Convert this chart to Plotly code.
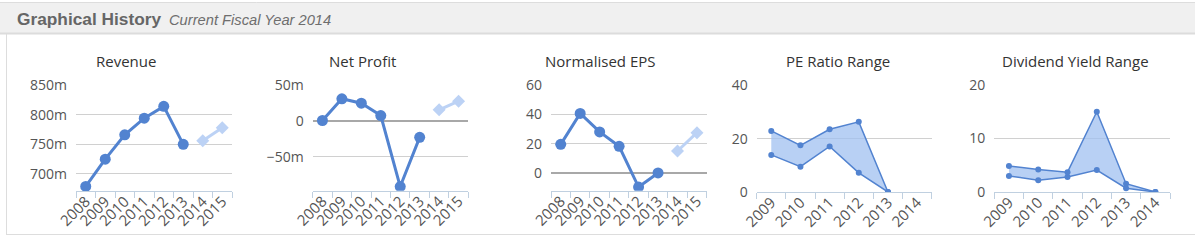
import plotly.graph_objects as go

W, H = 1195, 241

years8 = ['2008', '2009', '2010', '2011', '2012', '2013', '2014', '2015']
years6 = ['2009', '2010', '2011', '2012', '2013', '2014']

revenue = [679, 725, 766, 794, 814, 750, None, None]
revenue_fc = [None, None, None, None, None, None, 756, 778]

net_profit = [0.5, 30.8, 24.6, 7.4, -91.6, -23, None, None]
net_profit_fc = [None, None, None, None, None, None, 15.4, 27.4]

eps = [19.5, 40.6, 28, 18.2, -9.6, 0, None, None]
eps_fc = [None, None, None, None, None, None, 15, 27.5]

pe_high = [22.9, 17.5, 23.5, 26.3, 0, None]
pe_low = [13.9, 9.5, 17.1, 7.2, 0, None]

dy_high = [4.86, 4.2, 3.7, 15.0, 1.55, 0]
dy_low = [3.0, 2.2, 2.8, 4.1, 0.7, 0]

titles = ['Revenue', 'Net Profit', 'Normalised EPS', 'PE Ratio Range', 'Dividend Yield Range']

MAIN = '#5283d0'
LIGHT = '#bcd2f5'
FILL = 'rgba(160,192,240,0.75)'
GRID = '#d0d0d0'
AXIS = '#c0d0e0'
FONT = 'Open Sans'
LABEL = '#555555'


def xd(a, b):
    return [a / W, b / W]


def yd(top, bottom):
    return [1 - bottom / H, 1 - top / H]


fig = go.Figure()

line_sets = [
    (revenue, revenue_fc),
    (net_profit, net_profit_fc),
    (eps, eps_fc),
]
for i, (main, fc) in enumerate(line_sets):
    ax = '' if i == 0 else str(i + 1)
    fig.add_trace(go.Scatter(x=years8, y=main, mode='lines+markers',
                             line=dict(color=MAIN, width=3),
                             marker=dict(color=MAIN, size=11),
                             xaxis='x' + ax, yaxis='y' + ax,
                             showlegend=False, connectgaps=False))
    fig.add_trace(go.Scatter(x=years8, y=fc, mode='lines+markers',
                             line=dict(color=LIGHT, width=3),
                             marker=dict(color=LIGHT, size=10, symbol='diamond'),
                             xaxis='x' + ax, yaxis='y' + ax,
                             showlegend=False))

range_sets = [(pe_low, pe_high, years6), (dy_low, dy_high, years6)]
for j, (lo, hi, cats) in enumerate(range_sets):
    ax = str(j + 4)
    fig.add_trace(go.Scatter(x=cats, y=lo, mode='lines+markers',
                             line=dict(color=MAIN, width=1.5),
                             marker=dict(color=MAIN, size=6),
                             xaxis='x' + ax, yaxis='y' + ax, showlegend=False))
    fig.add_trace(go.Scatter(x=cats, y=hi, mode='lines+markers', fill='tonexty',
                             fillcolor=FILL,
                             line=dict(color=MAIN, width=1.5),
                             marker=dict(color=MAIN, size=6),
                             xaxis='x' + ax, yaxis='y' + ax, showlegend=False))

xdoms = [xd(76, 232), xd(312.7, 468.3), xd(551, 706.7), xd(756.7, 931.7), xd(994.3, 1170)]
ydoms = [yd(85, 191), yd(85, 190.7), yd(85, 190.7), yd(85.3, 192), yd(85, 192)]
yranges = [[671.3, 850], [-97.4, 50], [-12.1, 60], [0, 40], [0, 20]]
yticks = [
    ([700, 750, 800, 850], ['700m', '750m', '800m', '850m']),
    ([-50, 0, 50], ['\u221250m', '0', '50m']),
    ([0, 20, 40, 60], ['0', '20', '40', '60']),
    ([0, 20, 40], ['0', '20', '40']),
    ([0, 10, 20], ['0', '10', '20']),
]
xcats = [years8, years8, years8, years6, years6]

layout = dict(
    width=W, height=H,
    margin=dict(l=0, r=0, t=0, b=0, autoexpand=False),
    paper_bgcolor='white', plot_bgcolor='white',
    showlegend=False,
    font=dict(family=FONT, color=LABEL, size=14),
)

for i in range(5):
    k = '' if i == 0 else str(i + 1)
    n = len(xcats[i])
    layout['xaxis' + k] = dict(
        domain=xdoms[i], anchor='y' + k, type='category',
        categoryorder='array', categoryarray=xcats[i],
        range=[-0.5, n - 0.5], showgrid=False, zeroline=False,
        showline=True, linecolor=AXIS, linewidth=1,
        ticks='outside', tickson='boundaries', ticklen=6, tickcolor=AXIS, tickwidth=1,
        tickangle=-45, tickfont=dict(family=FONT, size=15, color=LABEL),
        ticklabelstandoff=-5,
        fixedrange=True, automargin=False,
    )
    yz = i in (1, 2)
    layout['yaxis' + k] = dict(
        domain=ydoms[i], anchor='x' + k, range=yranges[i],
        tickmode='array', tickvals=yticks[i][0], ticktext=yticks[i][1],
        showgrid=True, gridcolor=GRID, gridwidth=1,
        zeroline=yz, zerolinecolor='#a8a8a8', zerolinewidth=2,
        showline=False, ticks='', ticklabelstandoff=8,
        tickfont=dict(family=FONT, size=14, color=LABEL),
        fixedrange=True, automargin=False,
    )

title_x = [126, 362.5, 600, 837.5, 1075.5]
annotations = []
for t, cx in zip(titles, title_x):
    annotations.append(dict(text=t, x=cx / W, y=1 - 61 / H, xref='paper', yref='paper',
                            xanchor='center', yanchor='middle', showarrow=False,
                            font=dict(family=FONT, size=15, color='#333333')))

annotations.append(dict(text='<b>Graphical History</b>', x=15 / W, y=1 - 19 / H,
                        xref='paper', yref='paper', xanchor='left', yanchor='middle',
                        showarrow=False,
                        font=dict(family='Liberation Sans', size=17.3, color='#666666')))
annotations.append(dict(text='<i>Current Fiscal Year 2014</i>', x=167 / W, y=1 - 20 / H,
                        xref='paper', yref='paper', xanchor='left', yanchor='middle',
                        showarrow=False,
                        font=dict(family='Liberation Sans', size=14.7, color='#6e6e6e')))
layout['annotations'] = annotations


def py(p):
    return 1 - p / H


shapes = [
    dict(type='rect', xref='paper', yref='paper', x0=0, x1=1, y0=py(33), y1=py(2.5),
         fillcolor='#f0f0f0', line=dict(width=0), layer='below'),
    dict(type='line', xref='paper', yref='paper', x0=0, x1=1, y0=py(2.5), y1=py(2.5),
         line=dict(color='#dddddd', width=1)),
    dict(type='line', xref='paper', yref='paper', x0=0, x1=1, y0=py(33.5), y1=py(33.5),
         line=dict(color='#dcdcdc', width=2)),
    dict(type='line', xref='paper', yref='paper', x0=6.5 / W, x1=6.5 / W, y0=py(34), y1=py(235),
         line=dict(color='#dddddd', width=1)),
    dict(type='line', xref='paper', yref='paper', x0=6 / W, x1=1, y0=py(234.5), y1=py(234.5),
         line=dict(color='#dddddd', width=1)),
]
layout['shapes'] = shapes

fig.update_layout(**layout)
fig.write_html('out.html', config={'displayModeBar': False},
               post_script="document.body.style.margin='0';document.body.style.padding='0';")
